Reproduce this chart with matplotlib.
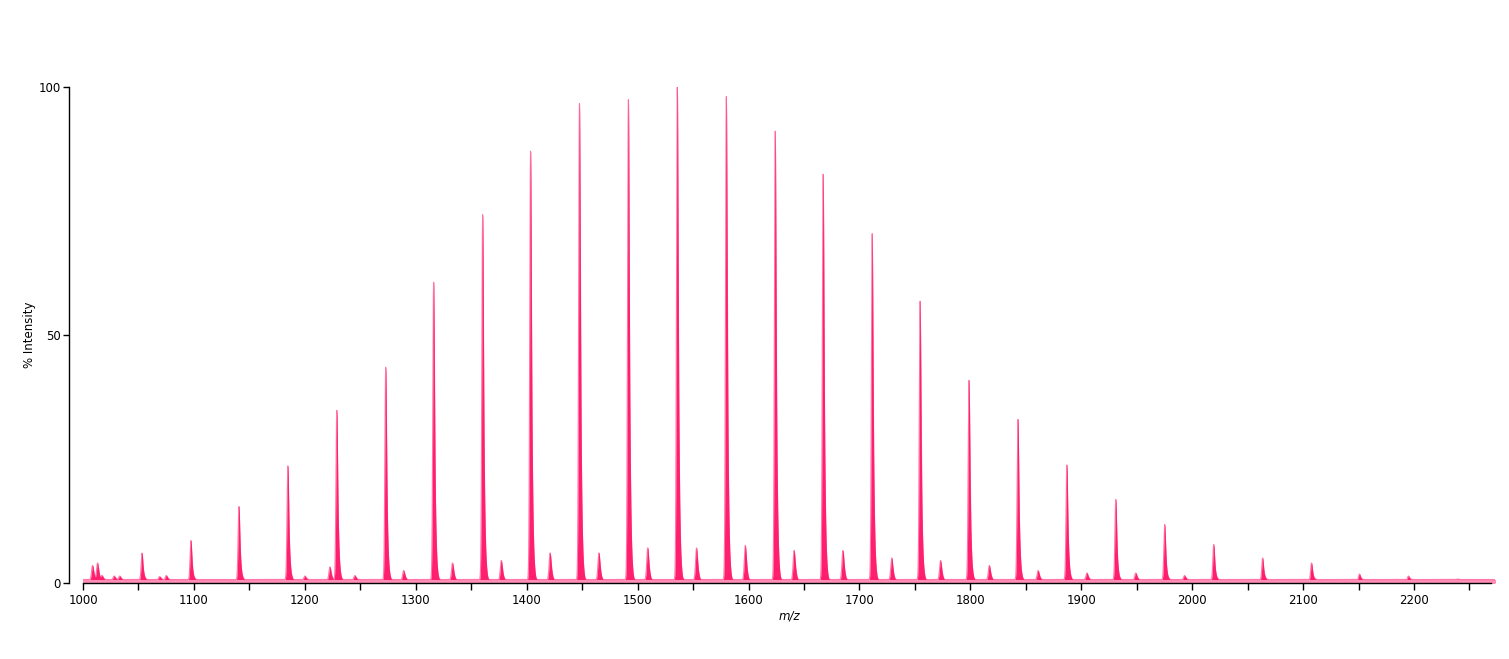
import numpy as np
import matplotlib
matplotlib.use("Agg")
import matplotlib.pyplot as plt
from matplotlib.ticker import MultipleLocator

# ---- data (m/z, % intensity) ----
main_mz = [1053.1, 1097.2, 1140.5, 1184.6, 1228.7, 1272.8, 1316.0, 1360.2, 1403.4,
           1447.5, 1491.6, 1535.7, 1579.9, 1624.0, 1667.2, 1711.4, 1754.6, 1798.7,
           1842.8, 1886.9, 1931.0, 1975.1, 2019.3, 2063.4, 2107.5, 2150.7, 2194.9, 2239.0]
main_int = [6.0, 8.5, 15.3, 23.4, 34.5, 43.1, 60.1, 73.6, 86.3,
            95.8, 96.6, 100.0, 97.2, 90.3, 81.7, 69.8, 56.3, 40.5,
            32.7, 23.6, 16.7, 11.7, 7.7, 5.0, 4.0, 1.8, 1.4, 0.8]

minor_mz = [1008.5, 1013.0, 1017.0, 1028.0, 1033.0, 1069.0, 1075.0, 1200.0, 1222.5,
            1245.0, 1289.0, 1333.0, 1377.0, 1421.0, 1465.0, 1509.0, 1553.0, 1597.0,
            1641.0, 1685.0, 1729.0, 1773.0, 1817.0, 1861.0, 1905.0, 1949.0, 1993.0]
minor_int = [3.5, 4.0, 1.5, 1.4, 1.4, 1.3, 1.5, 1.4, 3.2,
             1.5, 2.5, 4.0, 4.5, 6.0, 6.0, 7.0, 7.0, 7.5,
             6.5, 6.5, 5.0, 4.5, 3.5, 2.5, 2.0, 2.0, 1.5]

baseline_level = 0.7

x_ticks = [1000, 1100, 1200, 1300, 1400, 1500, 1600, 1700, 1800, 1900, 2000, 2100, 2200]
y_ticks = [0, 50, 100]

# ---- build profile spectrum from the peak list ----
mz = np.linspace(1000, 2273, 30000)
spec = np.full_like(mz, baseline_level)

def peak(center, height, sigma):
    return height * np.exp(-0.5 * ((mz - center) / sigma) ** 2)

# peak shape: sharp apex + right shoulder + small tail; scaled so the apex reaches the read height
shape_main = [(0.0, 1.0, 0.7), (1.1, 0.30, 0.9), (2.6, 0.06, 1.1)]
norm_main = sum(a * np.exp(-0.5 * (d / s) ** 2) for d, a, s in shape_main)
shape_minor = [(0.0, 1.0, 0.8), (1.3, 0.35, 1.0)]
norm_minor = sum(a * np.exp(-0.5 * (d / s) ** 2) for d, a, s in shape_minor)

for c, h in zip(main_mz, main_int):
    amp = max(h - baseline_level, 0) / norm_main
    for d, a, s in shape_main:
        spec += peak(c + d, a * amp, s)
for c, h in zip(minor_mz, minor_int):
    amp = max(h - baseline_level, 0) / norm_minor
    for d, a, s in shape_minor:
        spec += peak(c + d, a * amp, s)

W, H = 1509, 659
fig = plt.figure(figsize=(W / 100, H / 100), dpi=100)
ax = fig.add_axes([83 / W, 1 - 583 / H, (1495 - 83) / W, (583 - 87) / H])

color = "#ff1f6e"
ax.fill_between(mz, 0, spec, color=color, linewidth=0)
ax.plot(mz, spec, color=color, linewidth=0.8, alpha=0.6)
ax.fill_between(mz, 0, np.minimum(spec, baseline_level), color="#ff8fb6", linewidth=0)

ax.set_xlim(1000, 2273)
ax.set_ylim(0, 100)

for s in ["top", "right"]:
    ax.spines[s].set_visible(False)
ax.spines["left"].set_position(("outward", 10))
ax.spines["left"].set_linewidth(1.0)
ax.spines["bottom"].set_linewidth(1.0)
ax.spines["bottom"].set_bounds(1000, 2269)

ax.set_xticks(x_ticks)
ax.set_xticklabels([str(v) for v in x_ticks])
ax.xaxis.set_minor_locator(MultipleLocator(50))
ax.tick_params(axis="x", which="both", length=5, width=1, direction="out", labelsize=8.5, pad=3)
ax.set_yticks(y_ticks)
ax.set_yticklabels([str(v) for v in y_ticks])
ax.tick_params(axis="y", length=4, width=1, direction="out", labelsize=8.5, pad=2)

ax.set_xlabel("m/z", fontsize=8.5, style="italic", labelpad=2)
ax.set_ylabel("% Intensity", fontsize=8.5, labelpad=2)

fig.savefig("out.png", dpi=100, facecolor="white")
